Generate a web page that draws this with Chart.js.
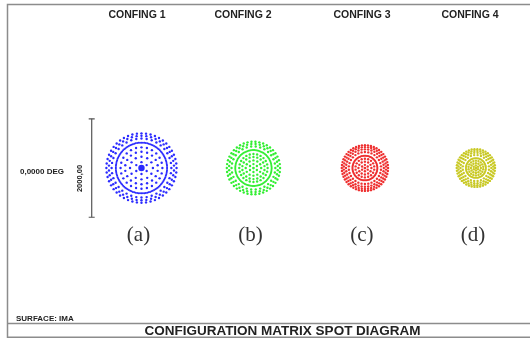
<!DOCTYPE html>
<html>
<head>
<meta charset="utf-8">
<script src="https://cdn.jsdelivr.net/npm/chart.js@4.4.1/dist/chart.umd.min.js"></script>
<style>
  html, body { margin: 0; padding: 0; background: #fff; }
  #wrap { width: 530px; height: 338px; position: relative; }
</style>
</head>
<body>
<div id="wrap"><canvas id="spotDiv"></canvas></div>
<script>
const configNames  = ["CONFING 1", "CONFING 2", "CONFING 3", "CONFING 4"];
const panelLabels  = ["(a)", "(b)", "(c)", "(d)"];
const configX      = [0, 2250, 4490, 6720];          // spot centres, um
const spotColors   = ["#2b2bff", "#33ee33", "#ee3030", "#c9c925"];

const radii1  = [0, 120, 230, 330, 420, 515, 600, 655, 705];
const counts1 = [1, 6, 12, 18, 24, 110, 36, 42, 48];
const radii2  = [0, 80, 155, 225, 285, 365, 440, 490, 535];
const counts2 = [1, 6, 12, 18, 24, 90, 30, 36, 42];
const radii3  = [0, 65, 130, 190, 250, 325, 380, 425, 465];
const counts3 = [1, 6, 12, 18, 80, 30, 36, 42, 48];
const radii4  = [0, 50, 100, 150, 200, 265, 310, 350, 385];
const counts4 = [1, 6, 12, 18, 64, 24, 30, 36, 42];

const scaleBarUm  = 2000;
const scaleBarX   = -1000;
const fieldLabel  = "0,0000 DEG";
const scaleLabel  = "2000,00";
const surfLabel   = "SURFACE: IMA";
const mainTitle   = "CONFIGURATION MATRIX SPOT DIAGRAM";

const umPerPx = 19.7;
const W = 530, H = 338, x0 = 139, y0 = 168;

function spotPoints(cx, radii, counts) {
    const pts = [];
    radii.forEach((r, i) => {
        const n = counts[i];
        for (let j = 0; j < n; j++) {
            const a = 2 * Math.PI * j / n + (i % 2) * Math.PI / n;
            pts.push({ x: cx + r * Math.cos(a), y: r * Math.sin(a), ring: i, n: n });
        }
    });
    return pts;
}

const allRadii  = [radii1, radii2, radii3, radii4];
const allCounts = [counts1, counts2, counts3, counts4];

const datasets = allRadii.map((radii, k) => ({
    label: configNames[k],
    data: spotPoints(configX[k], radii, allCounts[k]),
    backgroundColor: spotColors[k],
    borderWidth: 0,
    pointRadius: (c) => {
        const p = c.raw;
        if (p.ring === 0) return k === 0 ? 3.2 : 1.4;
        return p.n >= 60 ? 1.0 : 1.2;
    },
}));

datasets.push({
    type: 'line',
    label: 'scale',
    data: [{ x: scaleBarX, y: -scaleBarUm / 2 }, { x: scaleBarX, y: scaleBarUm / 2 }],
    borderColor: '#555',
    borderWidth: 1.2,
    pointStyle: 'line',
    pointRadius: 3,
    pointBorderColor: '#555',
    pointBorderWidth: 1.2,
});

const textPlugin = {
    id: 'texts',
    afterDraw(chart) {
        const c = chart.ctx;
        const xs = chart.scales.x;
        c.save();

        // frame
        c.strokeStyle = '#8c8c8c';
        c.lineWidth = 1.5;
        c.beginPath();
        c.moveTo(7.5, 338); c.lineTo(7.5, 4.5); c.lineTo(530, 4.5);
        c.moveTo(7.5, 323.5); c.lineTo(530, 323.5);
        c.moveTo(7.5, 337.3); c.lineTo(530, 337.3);
        c.stroke();

        c.fillStyle = '#222';
        c.textBaseline = 'middle';
        c.textAlign = 'center';
        c.font = 'bold 10.5px "Liberation Sans", Arial, sans-serif';
        [137, 243, 362, 470].forEach((tx, i) => c.fillText(configNames[i], tx, 15.5));

        c.font = '21px "Liberation Serif", "Times New Roman", serif';
        c.fillStyle = '#333';
        panelLabels.forEach((t, i) => c.fillText(t, xs.getPixelForValue(configX[i]) - 3, 235));

        c.fillStyle = '#222';
        c.font = 'bold 8px "Liberation Sans", Arial, sans-serif';
        c.textAlign = 'left';
        c.fillText(fieldLabel, 20, 172);
        c.fillText(surfLabel, 16, 319);

        c.save();
        c.translate(79.5, 178.5);
        c.rotate(-Math.PI / 2);
        c.textAlign = 'center';
        c.font = 'bold 7.5px "Liberation Sans", Arial, sans-serif';
        c.fillText(scaleLabel, 0, 0);
        c.restore();

        c.textAlign = 'center';
        c.font = 'bold 13.5px "Liberation Sans", Arial, sans-serif';
        c.fillText(mainTitle, 282.5, 331.5);
        c.restore();
    }
};

new Chart(document.getElementById('spotDiv'), {
    type: 'scatter',
    data: { datasets: datasets },
    options: {
        responsive: true,
        maintainAspectRatio: false,
        animation: false,
        layout: { padding: 0 },
        plugins: { legend: { display: false }, tooltip: { enabled: false } },
        scales: {
            x: { type: 'linear', display: false, min: -x0 * umPerPx, max: (W - x0) * umPerPx },
            y: { type: 'linear', display: false, min: -(H - y0) * umPerPx, max: y0 * umPerPx },
        }
    },
    plugins: [textPlugin]
});
</script>
</body>
</html>
